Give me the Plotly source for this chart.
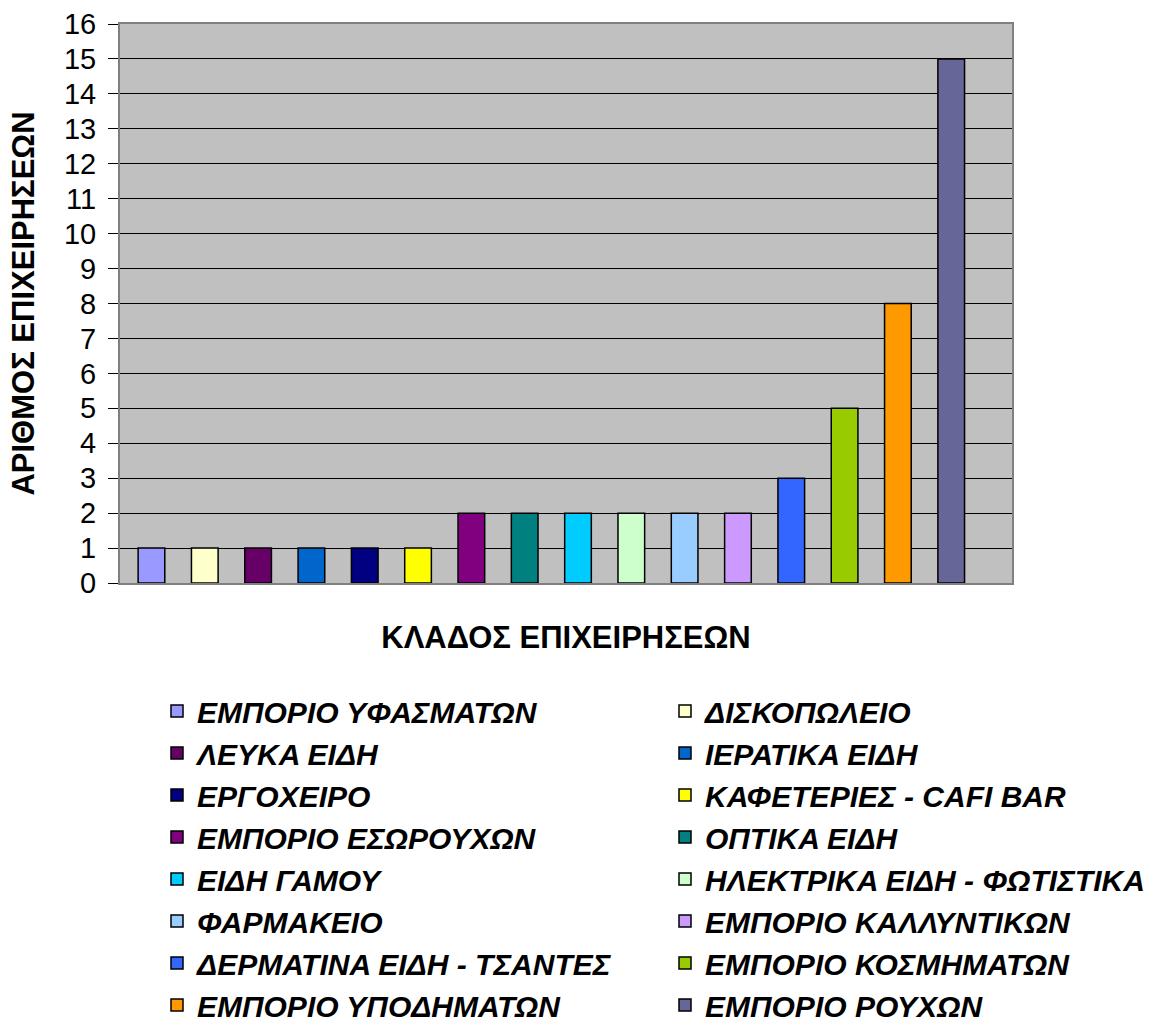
import plotly.graph_objects as go

categories = [
    "ΕΜΠΟΡΙΟ ΥΦΑΣΜΑΤΩΝ", "ΔΙΣΚΟΠΩΛΕΙΟ", "ΛΕΥΚΑ ΕΙΔΗ", "ΙΕΡΑΤΙΚΑ ΕΙΔΗ",
    "ΕΡΓΟΧΕΙΡΟ", "ΚΑΦΕΤΕΡΙΕΣ - CAFI BAR", "ΕΜΠΟΡΙΟ ΕΣΩΡΟΥΧΩΝ", "ΟΠΤΙΚΑ ΕΙΔΗ",
    "ΕΙΔΗ ΓΑΜΟΥ", "ΗΛΕΚΤΡΙΚΑ ΕΙΔΗ - ΦΩΤΙΣΤΙΚΑ", "ΦΑΡΜΑΚΕΙΟ", "ΕΜΠΟΡΙΟ ΚΑΛΛΥΝΤΙΚΩΝ",
    "ΔΕΡΜΑΤΙΝΑ ΕΙΔΗ - ΤΣΑΝΤΕΣ", "ΕΜΠΟΡΙΟ ΚΟΣΜΗΜΑΤΩΝ", "ΕΜΠΟΡΙΟ ΥΠΟΔΗΜΑΤΩΝ", "ΕΜΠΟΡΙΟ ΡΟΥΧΩΝ",
]
values = [1, 1, 1, 1, 1, 1, 2, 2, 2, 2, 2, 2, 3, 5, 8, 15]
colors = [
    "#9999FF", "#FFFFCC", "#660066", "#0066CC", "#000080", "#FFFF00",
    "#800080", "#008080", "#00CCFF", "#CCFFCC", "#99CCFF", "#CC99FF",
    "#3366FF", "#99CC00", "#FF9900", "#666699",
]
y_ticks = list(range(0, 17))

FONT = "Liberation Sans, Arial, sans-serif"

fig = go.Figure()
for i, (name, val, col) in enumerate(zip(categories, values, colors)):
    fig.add_trace(go.Bar(
        x=[name], y=[val], name="<b><i>" + name + "</i></b>",
        marker=dict(color=col, line=dict(color="#000000", width=1.5)),
        width=0.5,
        showlegend=True,
        legend="legend" if i % 2 == 0 else "legend2",
    ))

W, H = 1164, 1026
L, R, T, B = 120, 1012, 24, 583
pw, ph = R - L, B - T


def px_x(p):
    return (p - L) / pw


def px_y(p):
    return (B - p) / ph


legend_font = dict(family=FONT, size=30, color="#000000")

fig.update_layout(
    width=W, height=H,
    margin=dict(l=L, r=W - R, t=T, b=H - B, autoexpand=False),
    paper_bgcolor="#FFFFFF",
    plot_bgcolor="#C0C0C0",
    barmode="overlay",
    showlegend=True,
    legend=dict(
        x=px_x(157), y=px_y(685), xanchor="left", yanchor="top",
        orientation="v", font=legend_font, bgcolor="rgba(0,0,0,0)",
        tracegroupgap=0,
    ),
    legend2=dict(
        x=px_x(665), y=px_y(685), xanchor="left", yanchor="top",
        orientation="v", font=legend_font, bgcolor="rgba(0,0,0,0)",
        tracegroupgap=0,
    ),
    xaxis=dict(
        type="category", categoryorder="array", categoryarray=categories,
        range=[-0.59, 16.14], showticklabels=False, ticks="",
        showgrid=False, showline=True, linecolor="#808080", linewidth=2,
        mirror=True, zeroline=False,
        title=dict(text="<b>ΚΛΑΔΟΣ ΕΠΙΧΕΙΡΗΣΕΩΝ</b>",
                   font=dict(family=FONT, size=31, color="#000000"), standoff=42),
    ),
    yaxis=dict(
        range=[0, 16], tickmode="array", tickvals=y_ticks,
        ticktext=[str(v) for v in y_ticks],
        tickfont=dict(family=FONT, size=29, color="#000000"),
        ticks="outside", ticklen=10, tickcolor="#000000", tickwidth=1,
        ticklabelstandoff=6,
        showgrid=True, gridcolor="#000000", gridwidth=1,
        showline=True, linecolor="#808080", linewidth=2, mirror=True,
        zeroline=False,
        title=dict(text="<b>ΑΡΙΘΜΟΣ ΕΠΙΧΕΙΡΗΣΕΩΝ</b>",
                   font=dict(family=FONT, size=31, color="#000000"), standoff=20),
    ),
)

fig.write_html("out.html", config={"displayModeBar": False},
               post_script="document.body.style.margin='0';")
